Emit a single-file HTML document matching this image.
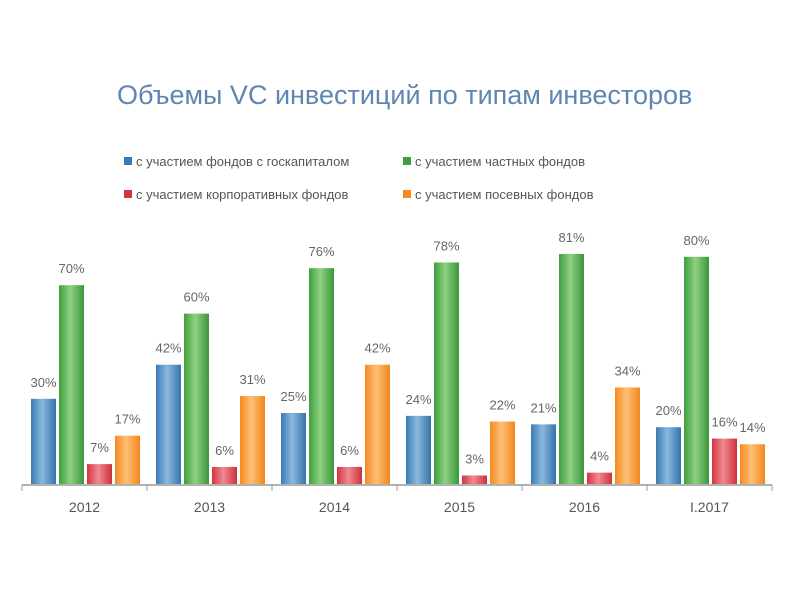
<!DOCTYPE html>
<html><head><meta charset="utf-8"><style>
body{margin:0;background:#fff;width:800px;height:600px;overflow:hidden;font-family:"Liberation Sans","DejaVu Sans",sans-serif}
</style></head><body>
<svg width="800" height="600" font-family="Liberation Sans, DejaVu Sans, sans-serif">
<defs>
<linearGradient id="gb" x1="0" x2="1"><stop offset="0" stop-color="#3a7bb5"/><stop offset=".45" stop-color="#8bb9dd"/><stop offset="1" stop-color="#3572aa"/></linearGradient>
<linearGradient id="gg" x1="0" x2="1"><stop offset="0" stop-color="#3f9e3c"/><stop offset=".45" stop-color="#8ed183"/><stop offset="1" stop-color="#3b963a"/></linearGradient>
<linearGradient id="gr" x1="0" x2="1"><stop offset="0" stop-color="#d43440"/><stop offset=".45" stop-color="#f08a90"/><stop offset="1" stop-color="#cf2f3b"/></linearGradient>
<linearGradient id="go" x1="0" x2="1"><stop offset="0" stop-color="#f58a1f"/><stop offset=".45" stop-color="#fdc076"/><stop offset="1" stop-color="#f3861c"/></linearGradient>
</defs>
<text x="117" y="104" font-size="27" fill="#5f86b0">Объемы VC инвестиций по типам инвесторов</text>
<g font-size="13" fill="#555">
<rect x="124" y="157" width="8" height="8" fill="#3a7bb5"/>
<text x="136" y="166">с участием фондов с госкапиталом</text>
<rect x="403" y="157" width="8" height="8" fill="#3f9e3c"/>
<text x="415" y="166">с участием частных фондов</text>
<rect x="124" y="190" width="8" height="8" fill="#d43440"/>
<text x="136" y="199">с участием корпоративных фондов</text>
<rect x="403" y="190" width="8" height="8" fill="#f58a1f"/>
<text x="415" y="199">с участием посевных фондов</text>
</g>
<g id="plot"></g>
</svg>
<script>
const categories=["2012","2013","2014","2015","2016","I.2017"];
const govValues=[30,42,25,24,21,20];
const privateValues=[70,60,76,78,81,80];
const corpValues=[7,6,6,3,4,16];
const seedValues=[17,31,42,22,34,14];
const series=[["gov",govValues,"url(#gb)"],["private",privateValues,"url(#gg)"],["corporate",corpValues,"url(#gr)"],["seed",seedValues,"url(#go)"]];
const NS="http://www.w3.org/2000/svg";
const plot=document.getElementById("plot");
const x0=22,groupW=125,baseY=484,pxPer=2.84;
function yScale(v){return baseY-v*pxPer;}
function groupX(i){return x0+i*groupW;}
function mk(t,a){const e=document.createElementNS(NS,t);for(const k in a)e.setAttribute(k,a[k]);plot.appendChild(e);return e;}
const axis=mk("line",{x1:x0,x2:x0+groupW*categories.length,y1:baseY+1,y2:baseY+1,stroke:"#999","stroke-width":1.5});


for(let i=0;i<=categories.length;i++){
 const t=mk("line",{x1:groupX(i),x2:groupX(i),y1:baseY+1,y2:baseY+7,stroke:"#999"});
 
 
}
categories.forEach((c,i)=>{
 const l=mk("text",{x:groupX(i)+groupW/2,y:baseY+28,"text-anchor":"middle","font-size":14,fill:"#555"});
 l.textContent=c;
 
 
 series.forEach((s,j)=>{
  const v=s[1][i];const bx=groupX(i)+9+j*28;
  const r=mk("rect",{x:bx,y:yScale(v),width:25,height:baseY-yScale(v),fill:s[2]});
  
  
  const tl=mk("text",{x:bx+12.5,y:yScale(v)-12,"text-anchor":"middle","font-size":13,fill:"#666"});
  tl.textContent=v+"%";
  
  
 });
});
</script>
</body></html>
